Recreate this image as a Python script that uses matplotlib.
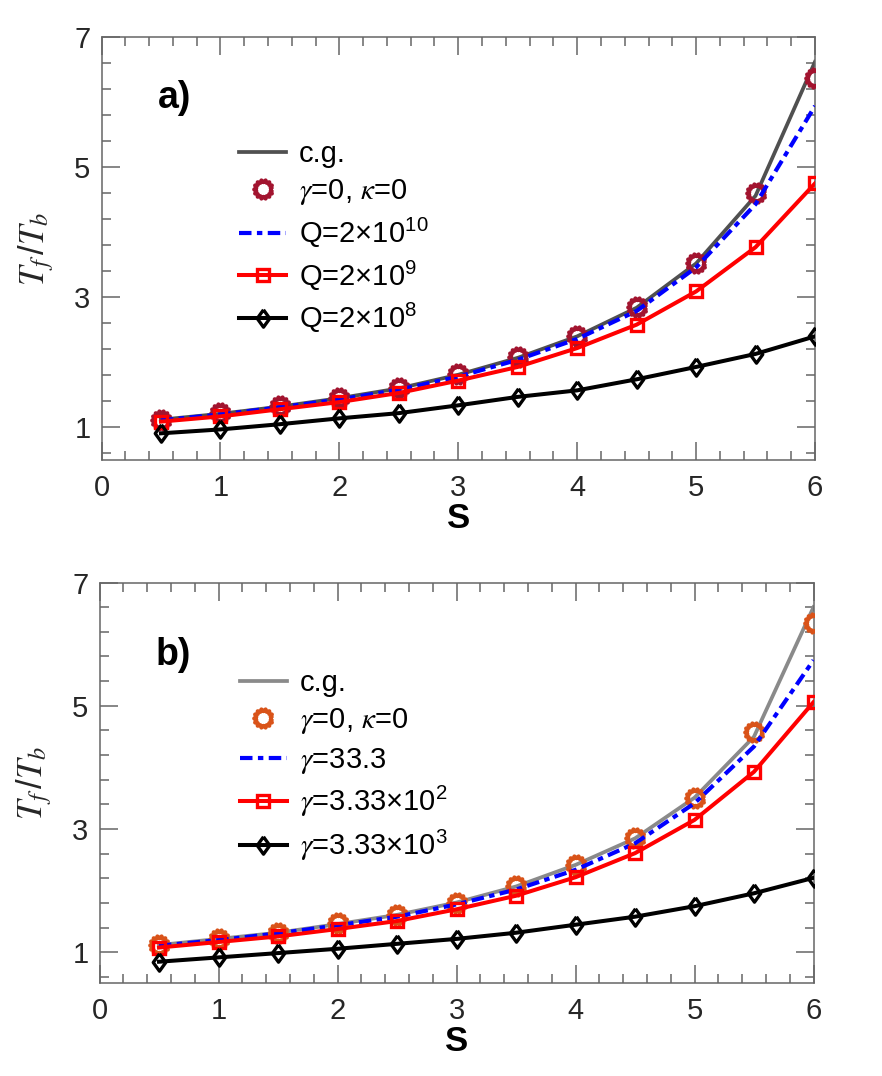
import matplotlib
matplotlib.use('Agg')
import matplotlib.pyplot as plt
from matplotlib.ticker import MultipleLocator, FixedLocator
import numpy as np

plt.rcParams.update({
    'font.family': 'Liberation Sans',
    'mathtext.fontset': 'custom',
    'mathtext.rm': 'Liberation Sans',
    'mathtext.it': 'STIXGeneral:italic',
    'mathtext.bf': 'Liberation Sans:bold',
    'text.color': '#262626',
})

# ---------------- data ----------------
S = [0.5, 1.0, 1.5, 2.0, 2.5, 3.0, 3.5, 4.0, 4.5, 5.0, 5.5, 6.0]

# panel a
a_cg = [1.12, 1.21, 1.32, 1.45, 1.60, 1.81, 2.07, 2.40, 2.84, 3.52, 4.56, 6.62]
a_free = [1.12, 1.22, 1.33, 1.45, 1.60, 1.82, 2.08, 2.40, 2.85, 3.53, 4.60, 6.37]
a_q10 = [1.11, 1.20, 1.31, 1.43, 1.58, 1.78, 2.04, 2.36, 2.79, 3.46, 4.43, 5.94]
a_q9 = [1.09, 1.17, 1.28, 1.39, 1.53, 1.72, 1.93, 2.22, 2.58, 3.09, 3.77, 4.75]
a_q8 = [0.91, 0.97, 1.05, 1.14, 1.22, 1.34, 1.47, 1.57, 1.74, 1.93, 2.13, 2.40]
a_labels = ['c.g.', r'$\gamma$=0, $\kappa$=0', r'Q=2$\times10^{10}$',
            r'Q=2$\times10^{9}$', r'Q=2$\times10^{8}$']

# panel b
b_cg = [1.12, 1.22, 1.32, 1.46, 1.61, 1.81, 2.07, 2.42, 2.85, 3.51, 4.50, 6.60]
b_free = [1.12, 1.22, 1.32, 1.47, 1.61, 1.81, 2.07, 2.42, 2.85, 3.51, 4.57, 6.35]
b_g1 = [1.11, 1.20, 1.31, 1.44, 1.58, 1.78, 2.02, 2.34, 2.77, 3.42, 4.34, 5.74]
b_g2 = [1.08, 1.17, 1.26, 1.38, 1.51, 1.70, 1.92, 2.22, 2.61, 3.15, 3.93, 5.06]
b_g3 = [0.85, 0.92, 0.99, 1.06, 1.14, 1.22, 1.32, 1.45, 1.58, 1.75, 1.96, 2.21]
b_labels = ['c.g.', r'$\gamma$=0, $\kappa$=0', r'$\gamma$=33.3',
            r'$\gamma$=3.33$\times10^{2}$', r'$\gamma$=3.33$\times10^{3}$']

# ---------------- markers ----------------
n_teeth = 14
ang = np.linspace(0, 2 * np.pi, 2 * n_teeth, endpoint=False)
rad = np.where(np.arange(2 * n_teeth) % 2 == 0, 1.0, 0.78)
GEAR = list(zip(rad * np.cos(ang), rad * np.sin(ang)))
GEAR.append(GEAR[0])
DIAMOND = [(0, 1), (0.72, 0), (0, -1), (-0.72, 0), (0, 1)]

FIG_W, FIG_H = 882, 1076
fig = plt.figure(figsize=(FIG_W / 100, FIG_H / 100), dpi=100)


def px_axes(left, top, right, bottom):
    return fig.add_axes([left / FIG_W, 1 - bottom / FIG_H,
                         (right - left) / FIG_W, (bottom - top) / FIG_H])


def draw_panel(ax, cg, free, s1, s2, s3, labels, cg_color, free_color, tag,
               tag_y, leg_anchor):
    ax.plot(S, cg, color=cg_color, lw=2.7, zorder=2)
    ax.plot(S, free, linestyle='none', marker=GEAR, ms=13.5,
            mfc='none', mec=free_color, mew=2.9, zorder=3)
    ax.plot(S, s1, color='#0000ff', lw=3.0, dashes=[3.0, 1.3, 1.3, 1.3], zorder=4)
    ax.plot(S, s2, color='#ff0000', lw=2.9, marker='s', ms=9,
            mfc='none', mec='#ff0000', mew=2.4, zorder=5)
    ax.plot(S, s3, color='#000000', lw=2.9, marker=DIAMOND, ms=12.5,
            mfc='none', mec='#000000', mew=2.4, zorder=6)

    ax.set_xlim(0, 6)
    ax.set_ylim(0.5, 7)
    ax.xaxis.set_major_locator(MultipleLocator(1))
    ax.xaxis.set_minor_locator(MultipleLocator(0.2))
    ax.yaxis.set_major_locator(FixedLocator([1, 3, 5, 7]))
    ax.yaxis.set_minor_locator(FixedLocator(np.arange(0.6, 7.01, 0.4)))
    ax.tick_params(which='both', direction='in', top=True, right=True,
                   color='#666666', width=1.1, labelsize=21,
                   labelcolor='#262626')
    ax.tick_params(which='major', length=13)
    ax.tick_params(which='minor', length=6.5)
    ax.tick_params(axis='x', which='major', pad=10)
    ax.tick_params(axis='y', which='major', pad=8)
    for sp in ax.spines.values():
        sp.set_color('#666666')
        sp.set_linewidth(1.1)

    ax.set_xlabel('S', fontsize=25, fontweight='bold', color='#000000',
                  labelpad=0)
    ax.set_ylabel(r'$T_f\,/T_b$', fontsize=25, labelpad=13, color='#262626')

    ax.text(0.47, tag_y, tag, fontsize=27,
            fontweight='bold', color='#000000', ha='left', va='center')

    leg = ax.legend(ax.get_lines(), labels, loc='upper left',
                    bbox_to_anchor=leg_anchor,
                    frameon=False, fontsize=21, handlelength=1.6,
                    handletextpad=0.45, labelspacing=0.32, borderpad=0,
                    borderaxespad=0)
    for t in leg.get_texts():
        t.set_color('#000000')


ax_a = px_axes(101.5, 37, 815, 460)
draw_panel(ax_a, a_cg, a_free, a_q10, a_q9, a_q8, a_labels,
           '#505050', '#a2142f', 'a)', 6.07, (0.193, 0.757))

ax_b = px_axes(99.5, 582.5, 813.5, 983.3)
draw_panel(ax_b, b_cg, b_free, b_g1, b_g2, b_g3, b_labels,
           '#8a8a8a', '#d95319', 'b)', 5.83, (0.197, 0.784))

fig.savefig('out.png', dpi=100, facecolor='white')
plt.close(fig)
